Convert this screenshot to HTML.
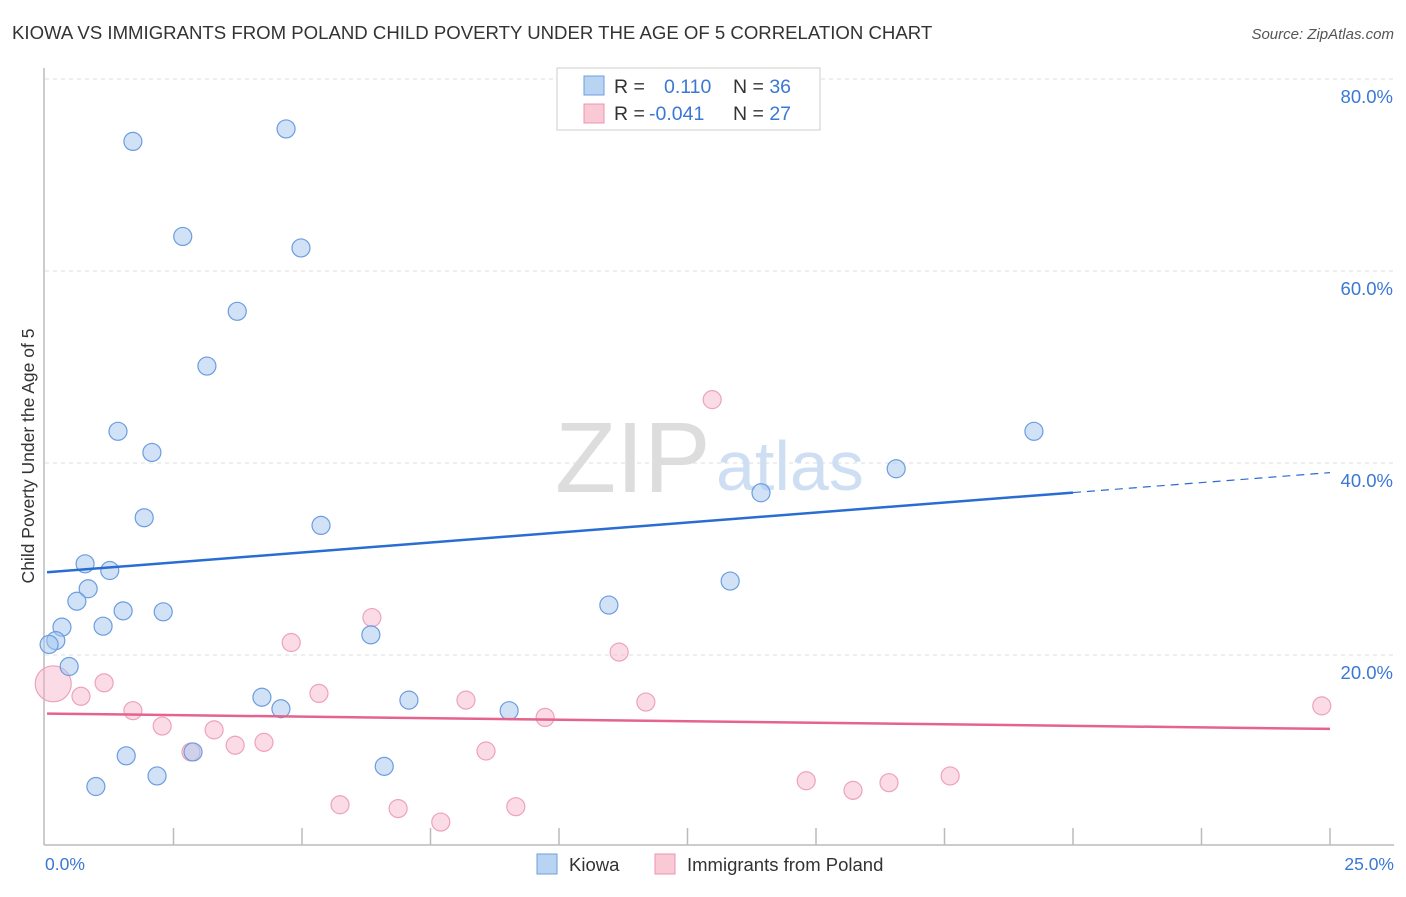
<!DOCTYPE html>
<html><head><meta charset="utf-8"><style>
body{margin:0;background:#fff;font-family:"Liberation Sans",sans-serif;}
svg text{font-family:"Liberation Sans",sans-serif;}
</style></head><body>
<svg width="1406" height="892" xmlns="http://www.w3.org/2000/svg">
<text x="12" y="39" font-size="18.6" fill="#333">KIOWA VS IMMIGRANTS FROM POLAND CHILD POVERTY UNDER THE AGE OF 5 CORRELATION CHART</text>
<text x="1394" y="39" font-size="15" fill="#555" font-style="italic" text-anchor="end">Source: ZipAtlas.com</text>
<g id="grid"></g>
<g>
<text x="555" y="492" font-size="100" fill="#ddd" font-family="Liberation Serif">ZIP</text>
<text x="716" y="490" font-size="70" fill="#cfdff3">atlas</text>
</g>
<line x1="44" y1="68" x2="44" y2="845" stroke="#bbb" stroke-width="1.5"/>
<line x1="44" y1="845" x2="1394" y2="845" stroke="#bbb" stroke-width="1.5"/>
<text transform="translate(34,456) rotate(-90)" font-size="17.5" fill="#333" text-anchor="middle">Child Poverty Under the Age of 5</text>
<text x="45" y="870" font-size="17.5" fill="#3a78d4">0.0%</text>
<text x="1394" y="870" font-size="17.5" fill="#3a78d4" text-anchor="end">25.0%</text>
<g id="pts"></g>
<g id="trends"></g>
<g>
<rect x="557" y="68" width="263" height="62" fill="#fff" stroke="#ccc"/>
<rect x="584" y="76" width="20" height="19" fill="#b9d3f3" stroke="#6d9fe0"/>
<rect x="584" y="104" width="20" height="19" fill="#f9c9d6" stroke="#ec94ad"/>
<text x="614" y="93" font-size="19.5" fill="#333">R = <tspan fill="#3a78d4" x="664">0.110</tspan><tspan x="733">N = </tspan><tspan fill="#3a78d4">36</tspan></text>
<text x="614" y="120" font-size="19.5" fill="#333">R = <tspan fill="#3a78d4" x="649">-0.041</tspan><tspan x="733">N = </tspan><tspan fill="#3a78d4">27</tspan></text>
</g>
<g>
<rect x="537" y="854" width="20" height="20" fill="#b9d3f3" stroke="#6d9fe0"/>
<text x="569" y="871" font-size="18.5" fill="#333">Kiowa</text>
<rect x="655" y="854" width="20" height="20" fill="#f9c9d6" stroke="#ec94ad"/>
<text x="687" y="871" font-size="18.5" fill="#333">Immigrants from Poland</text>
</g>
</svg>
<script>
const yTicks=[20,40,60,80];
const xTickCount=10;
const kiowaX=[1.71,4.69,2.68,4.98,3.74,3.15,1.42,2.08,1.93,5.37,0.78,1.26,0.84,0.62,1.52,2.30,0.33,1.13,0.21,0.08,0.47,4.22,4.59,7.08,6.34,9.03,2.88,1.58,2.18,0.99,6.60,10.97,13.33,13.93,16.56,19.24];
const kiowaY=[73.5,74.8,63.6,62.4,55.8,50.1,43.3,41.1,34.3,33.5,29.5,28.8,26.9,25.6,24.6,24.5,22.9,23.0,21.5,21.1,18.8,15.6,14.4,15.3,22.1,14.2,9.9,9.5,7.4,6.3,8.4,25.2,27.7,36.9,39.4,43.3];
const polandX=[0.16,0.70,1.15,1.71,2.28,3.29,3.70,4.26,2.84,4.79,5.33,6.36,5.74,6.87,7.70,8.19,8.58,9.16,9.73,11.17,11.69,12.98,14.81,15.72,16.42,17.61,24.84];
const polandY=[17.0,15.7,17.1,14.2,12.6,12.2,10.6,10.9,9.9,21.3,16.0,23.9,4.4,4.0,2.6,15.3,10.0,4.2,13.5,20.3,15.1,46.6,6.9,5.9,6.7,7.4,14.7];
const polandR=[18,9,9,9,9,9,9,9,9,9,9,9,9,9,9,9,9,9,9,9,9,9,9,9,9,9,9];
const kiowaTrend=[28.6,0.416];
const polandTrend=[13.9,-0.064];
const X=v=>45+v*51.4, Y=v=>847-v*9.6;
const NS="http://www.w3.org/2000/svg";
function mk(t,a,p){const e=document.createElementNS(NS,t);for(const k in a)e.setAttribute(k,a[k]);p.appendChild(e);return e;}
const grid=document.getElementById('grid');
yTicks.forEach(t=>{
 const l=mk('line',{x1:45,x2:1394,y1:Y(t),y2:Y(t),stroke:'#ddd','stroke-dasharray':'4,4'},grid);
 
 
 const tx=mk('text',{x:1393,y:Y(t)+24,'font-size':18.5,fill:'#3a78d4','text-anchor':'end'},grid);
 tx.textContent=t.toFixed(1)+'%';
 
 
});
for(let i=1;i<=xTickCount;i++){
 const l=mk('line',{x1:X(i*2.5),x2:X(i*2.5),y1:828,y2:845,stroke:'#bbb','stroke-width':1.5},grid);
 
 
}
const pts=document.getElementById('pts');
polandX.forEach((x,i)=>{
 const c=mk('circle',{cx:X(x),cy:Y(polandY[i]),r:polandR[i],fill:'rgba(246,176,198,0.45)',stroke:'#eda3b9','stroke-width':1.2},pts);
 
 
});
kiowaX.forEach((x,i)=>{
 const c=mk('circle',{cx:X(x),cy:Y(kiowaY[i]),r:9,fill:'rgba(164,198,240,0.5)',stroke:'#6b9de0','stroke-width':1.2},pts);
 
 
});
const tr=document.getElementById('trends');
const f=(t,x)=>t[0]+t[1]*x;
let l=mk('line',{x1:X(0.04),y1:Y(f(kiowaTrend,0.04)),x2:X(20),y2:Y(f(kiowaTrend,20)),stroke:'#2a6dd2','stroke-width':2.5},tr);


l=mk('line',{x1:X(20),y1:Y(f(kiowaTrend,20)),x2:X(25),y2:Y(f(kiowaTrend,25)),stroke:'#2a6dd2','stroke-width':1.2,'stroke-dasharray':'8,6'},tr);


l=mk('line',{x1:X(0.04),y1:Y(f(polandTrend,0.04)),x2:X(25),y2:Y(f(polandTrend,25)),stroke:'#e5638c','stroke-width':2.5},tr);


</script>
</body></html>
